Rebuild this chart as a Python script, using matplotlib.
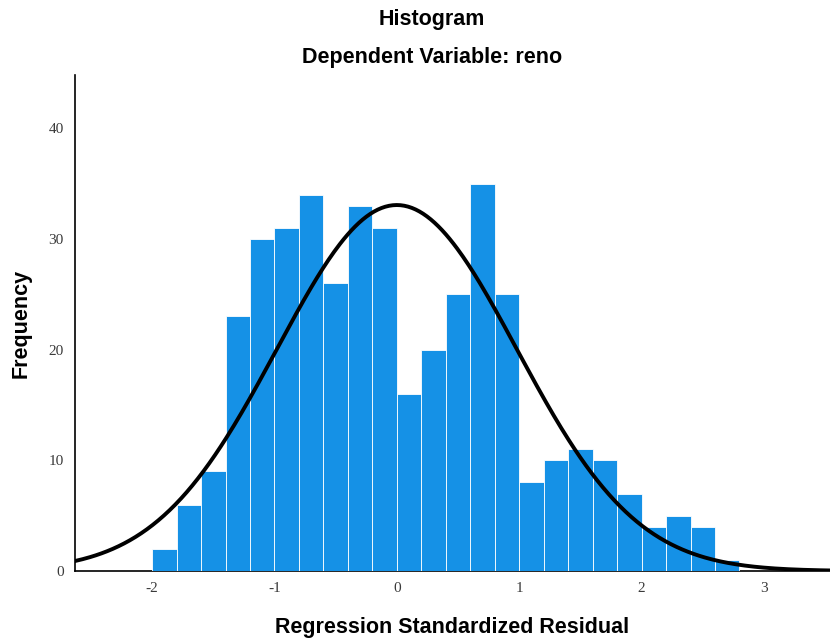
import numpy as np
from matplotlib import pyplot as plt

plt.rcParams['axes.unicode_minus'] = False

# histogram of regression standardized residuals (bin width 0.2, from -2.0 to 2.8)
bin_edges = np.round(np.arange(-2.0, 2.81, 0.2), 2)
counts = [2, 6, 9, 23, 30, 31, 34, 26, 33, 31,
          16, 20, 25, 35, 25,
          8, 10, 11, 10, 7,
          4, 5, 4, 1]

# normal curve parameters
curve_mean = 0.0
curve_sd = 0.98
curve_n = 406

xticks = [-2, -1, 0, 1, 2, 3]
yticks = [0, 10, 20, 30, 40]

fig = plt.figure(figsize=(8.3, 6.44), dpi=100)
ax = fig.add_axes([75 / 830, 73 / 644, 755 / 830, 496 / 644])

width = bin_edges[1] - bin_edges[0]
ax.bar(bin_edges[:-1], counts, width=width, align='edge',
       color='#1591e6', edgecolor='white', linewidth=0.6, zorder=3)

xs = np.linspace(-2.63, 3.54, 400)
ys = curve_n * width * np.exp(-(xs - curve_mean) ** 2 / (2 * curve_sd ** 2)) / (curve_sd * np.sqrt(2 * np.pi))
ax.plot(xs, ys, color='black', linewidth=2.8, zorder=4)

ax.set_xlim(-2.63, 3.54)
ax.set_ylim(0, 44.8)
ax.set_xticks(xticks)
ax.set_yticks(yticks)
ax.tick_params(length=0, labelsize=11, labelcolor='#3a3a3a', pad=8)
for lab in ax.get_xticklabels() + ax.get_yticklabels():
    lab.set_family('Liberation Serif')

ax.spines['top'].set_visible(False)
ax.spines['right'].set_visible(False)
for s in ['left', 'bottom']:
    ax.spines[s].set_linewidth(1.2)

ax.set_xlabel('Regression Standardized Residual', family='Liberation Sans',
              fontweight='bold', fontsize=15.5, labelpad=16)
ax.set_ylabel('Frequency', family='Liberation Sans',
              fontweight='bold', fontsize=15.5, labelpad=12)

fig.text(432 / 830, 1 - 19 / 644, 'Histogram', ha='center', va='center',
         family='Liberation Sans', fontweight='bold', fontsize=15.5)
fig.text(432 / 830, 1 - 58 / 644, 'Dependent Variable: reno', ha='center', va='center',
         family='Liberation Sans', fontweight='bold', fontsize=15.5)

fig.savefig('out.png', dpi=100)
